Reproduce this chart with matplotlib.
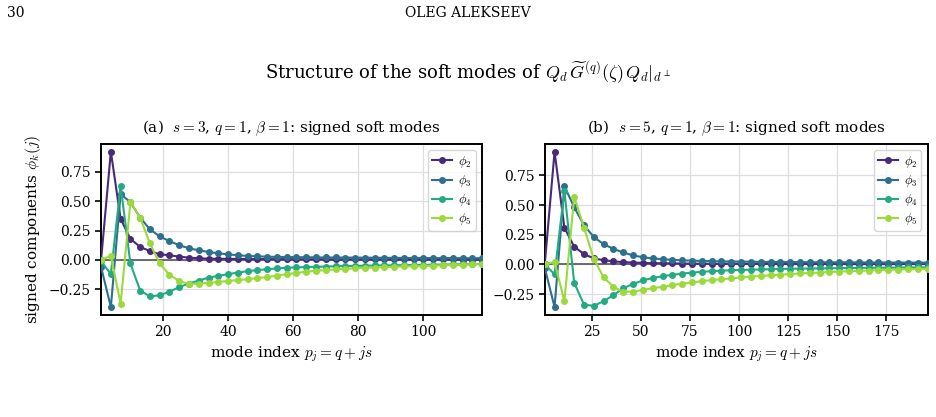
import numpy as np
import matplotlib
matplotlib.use("Agg")
from matplotlib import pyplot as plt

plt.rcParams['font.family'] = ['DejaVu Serif']
plt.rcParams['mathtext.fontset'] = 'cm'

# panel (a): s=3, q=1 -> p_j = 1 + 3j, j = 0..39
j_vals = np.arange(40)
p_a = 1 + 3 * j_vals
phi2_a = [0.0, 0.92, 0.35, 0.18, 0.11, 0.076, 0.048, 0.04, 0.028, 0.02,
          0.014, 0.011, 0.010, 0.009, 0.009, 0.008, 0.008, 0.007, 0.007, 0.007,
          0.006, 0.006, 0.006, 0.006, 0.005, 0.005, 0.005, 0.005, 0.005, 0.005,
          0.004, 0.004, 0.004, 0.004, 0.004, 0.004, 0.004, 0.003, 0.003, 0.003]
phi3_a = [-0.06, -0.40, 0.56, 0.49, 0.36, 0.26, 0.20, 0.16, 0.125, 0.099,
          0.082, 0.068, 0.056, 0.048, 0.040, 0.034, 0.031, 0.028, 0.026, 0.025,
          0.024, 0.023, 0.022, 0.021, 0.021, 0.020, 0.020, 0.019, 0.019, 0.018,
          0.018, 0.017, 0.017, 0.017, 0.016, 0.016, 0.016, 0.015, 0.015, 0.015]
phi4_a = [-0.01, -0.12, 0.63, -0.03, -0.26, -0.31, -0.30, -0.27, -0.23, -0.20,
          -0.175, -0.15, -0.135, -0.121, -0.107, -0.095, -0.086, -0.079, -0.072, -0.066,
          -0.063, -0.060, -0.058, -0.056, -0.054, -0.052, -0.050, -0.049, -0.047, -0.046,
          -0.045, -0.044, -0.043, -0.042, -0.040, -0.039, -0.038, -0.037, -0.036, -0.035]
phi5_a = [0.0, 0.035, -0.37, 0.49, 0.36, 0.14, -0.03, -0.127, -0.178, -0.205,
          -0.20, -0.195, -0.187, -0.178, -0.171, -0.163, -0.154, -0.145, -0.133, -0.121,
          -0.110, -0.100, -0.092, -0.086, -0.080, -0.075, -0.071, -0.067, -0.064, -0.061,
          -0.058, -0.055, -0.053, -0.051, -0.048, -0.045, -0.042, -0.040, -0.037, -0.035]

# panel (b): s=5, q=1 -> p_j = 1 + 5j, j = 0..39
p_b = 1 + 5 * j_vals
phi2_b = [0.0, 0.95, 0.31, 0.148, 0.087, 0.05, 0.035, 0.025, 0.019, 0.015,
          0.012, 0.010, 0.009, 0.008, 0.007, 0.006, 0.006, 0.005, 0.005, 0.005,
          0.004, 0.004, 0.004, 0.004, 0.003, 0.003, 0.003, 0.003, 0.003, 0.003,
          0.003, 0.002, 0.002, 0.002, 0.002, 0.002, 0.002, 0.002, 0.002, 0.002]
phi3_b = [-0.03, -0.36, 0.66, 0.48, 0.33, 0.23, 0.17, 0.13, 0.10, 0.075,
          0.06, 0.05, 0.043, 0.038, 0.034, 0.031, 0.029, 0.027, 0.025, 0.024,
          0.023, 0.022, 0.021, 0.020, 0.020, 0.019, 0.019, 0.018, 0.018, 0.017,
          0.017, 0.017, 0.016, 0.016, 0.016, 0.015, 0.015, 0.015, 0.015, 0.014]
phi4_b = [0.0, -0.084, 0.62, -0.155, -0.34, -0.35, -0.31, -0.26, -0.20, -0.166,
          -0.135, -0.115, -0.10, -0.088, -0.078, -0.07, -0.063, -0.058, -0.053, -0.05,
          -0.047, -0.045, -0.043, -0.041, -0.039, -0.037, -0.036, -0.035, -0.034, -0.033,
          -0.032, -0.031, -0.030, -0.029, -0.028, -0.028, -0.027, -0.026, -0.026, -0.025]
phi5_b = [0.0, 0.02, -0.31, 0.57, 0.31, 0.045, -0.11, -0.19, -0.23, -0.23,
          -0.216, -0.20, -0.19, -0.175, -0.163, -0.152, -0.142, -0.133, -0.125, -0.118,
          -0.11, -0.104, -0.098, -0.092, -0.087, -0.082, -0.077, -0.073, -0.069, -0.065,
          -0.061, -0.058, -0.055, -0.052, -0.049, -0.046, -0.044, -0.041, -0.039, -0.037]

labels = [r"$\phi_2$", r"$\phi_3$", r"$\phi_4$", r"$\phi_5$"]
titles = [r"(a)  $s=3$, $q=1$, $\beta=1$: signed soft modes",
          r"(b)  $s=5$, $q=1$, $\beta=1$: signed soft modes"]
colors = plt.cm.viridis(np.linspace(0.12, 0.85, 4))


def draw_panel(ax, p, series, title):
    ax.axhline(0, color='#555555', lw=1.2, zorder=1)
    for ys, lab, c in zip(series, labels, colors):
        ax.plot(p, ys, marker='o', ms=4, lw=1.5, color=c, label=lab, zorder=3)
    ax.set_xlim(p[0], p[-1])
    ax.margins(y=0.05)
    ax.set_yticks([-0.25, 0.0, 0.25, 0.5, 0.75])
    ax.grid(True, color='#dddddd', lw=0.9)
    ax.set_axisbelow(True)
    ax.set_title(title, fontsize=11, pad=8)
    ax.set_xlabel(r"mode index $p_j = q + js$", fontsize=11)
    ax.tick_params(labelsize=10, width=1.2, length=4)
    for sp in ax.spines.values():
        sp.set_linewidth(1.4)
    ax.legend(loc='upper right', fontsize=9, handlelength=1.6,
              borderpad=0.3, labelspacing=0.25, handletextpad=0.5)


def main():
    fig = plt.figure(figsize=(9.36, 4.17), dpi=100)
    ax1 = fig.add_axes([0.108, 0.245, 0.407, 0.41])
    ax2 = fig.add_axes([0.582, 0.245, 0.409, 0.41])

    draw_panel(ax1, p_a, [phi2_a, phi3_a, phi4_a, phi5_a], titles[0])
    draw_panel(ax2, p_b, [phi2_b, phi3_b, phi4_b, phi5_b], titles[1])
    ax1.set_ylabel(r"signed components $\phi_k(j)$", fontsize=11)

    fig.text(0.008, 0.97, "30", fontsize=10, va='center')
    fig.text(0.5, 0.97, "OLEG ALEKSEEV", fontsize=10, ha='center', va='center')
    fig.text(0.5, 0.825,
             r"Structure of the soft modes of $Q_d\,\widetilde{G}^{(q)}(\zeta)\,Q_d|_{d^\perp}$",
             fontsize=13, ha='center', va='center')

    fig.savefig("out.png", dpi=100)


if __name__ == "__main__":
    main()
